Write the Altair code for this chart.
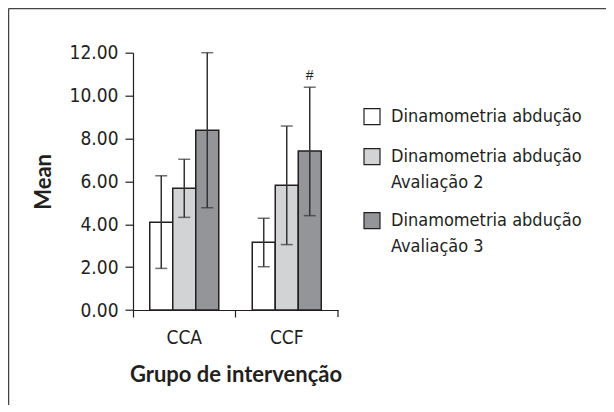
import altair as alt
import pandas as pd

groups = ["CCA", "CCF"]
series = ["Dinamometria abdução", "Dinamometria abdução Avaliação 2", "Dinamometria abdução Avaliação 3"]
colors = ["#ffffff", "#d1d3d4", "#939598"]

mean_cca = [4.09, 5.68, 8.38]
mean_ccf = [3.16, 5.82, 7.42]
upper_cca = [6.26, 7.03, 12.0]
upper_ccf = [4.28, 8.58, 10.39]
lower_cca = [1.94, 4.32, 4.77]
lower_ccf = [2.02, 3.05, 4.40]
notes_cca = ["", "", ""]
notes_ccf = ["", "", "#"]

rows = []
for g, m, u, l, n in [("CCA", mean_cca, upper_cca, lower_cca, notes_cca),
                      ("CCF", mean_ccf, upper_ccf, lower_ccf, notes_ccf)]:
    for s, mv, uv, lv, nv in zip(series, m, u, l, n):
        rows.append({"grupo": g, "serie": s, "mean": mv, "upper": uv, "lower": lv, "note": nv})
df = pd.DataFrame(rows)

W, H = 205, 257.3
PAD = {"left": 125, "top": 44.7, "right": 268, "bottom": 95}
NARROW = "'DejaVu Sans Condensed', 'Liberation Sans', sans-serif"
BOLD = "Lato"
INK = "#231f20"

x_enc = alt.X("grupo:N", sort=groups, scale=alt.Scale(paddingInner=0, paddingOuter=0),
              axis=alt.Axis(title="Grupo de intervenção", labelAngle=0, bandPosition=0,
                            labelFont=NARROW, labelFontSize=19, labelColor=INK, labelPadding=11,
                            tickSize=7, tickColor=INK, domainColor=INK, tickWidth=1.2, domainWidth=1.2,
                            titleFont=BOLD, titleFontSize=22, titleFontWeight="bold",
                            titleColor=INK, titlePadding=17))
xo_enc = alt.XOffset("serie:N", sort=series, scale=alt.Scale(paddingInner=0, paddingOuter=0.728))

base = alt.Chart(df)

bars = base.mark_bar(stroke=INK, strokeWidth=1.5).encode(
    x=x_enc,
    xOffset=xo_enc,
    y=alt.Y("mean:Q", scale=alt.Scale(domain=[0, 12], nice=False),
            axis=alt.Axis(title="Mean", values=[0, 2, 4, 6, 8, 10, 12], format=".2f", grid=False,
                          labelFont=NARROW, labelFontSize=19, labelColor=INK, labelPadding=7,
                          tickSize=8, tickColor=INK, domainColor=INK, tickWidth=1.2, domainWidth=1.2,
                          titleFont=BOLD, titleFontSize=22, titleFontWeight="bold",
                          titleColor=INK, titlePadding=14)),
    color=alt.Color("serie:N", sort=series, scale=alt.Scale(domain=series, range=colors),
                    legend=alt.Legend(title=None, orient="none", legendX=230, legendY=55,
                                      symbolType="square", symbolSize=256,
                                      symbolStrokeColor=INK, symbolStrokeWidth=1.2,
                                      labelFont=NARROW, labelFontSize=18, labelColor=INK,
                                      labelLimit=0, labelOffset=10, rowPadding=18,
                                      labelExpr="split(replace(datum.label, ' Avaliação', '|Avaliação'), '|')")),
)

err = base.mark_rule(color="#333333", strokeWidth=1.5).encode(
    x=alt.X("grupo:N", sort=groups), xOffset=xo_enc,
    y="lower:Q", y2="upper:Q")

cap_hi = base.mark_tick(color="#333333", thickness=1.5, size=12).encode(
    x=alt.X("grupo:N", sort=groups), xOffset=xo_enc, y="upper:Q")
cap_lo = base.mark_tick(color="#333333", thickness=1.5, size=12).encode(
    x=alt.X("grupo:N", sort=groups), xOffset=xo_enc, y="lower:Q")

note = base.transform_filter("datum.note != ''").mark_text(
    font="Liberation Sans", fontSize=14, color=INK, baseline="bottom", dy=-4).encode(
    x=alt.X("grupo:N", sort=groups), xOffset=xo_enc, y="upper:Q", text="note:N")

end_tick = alt.Chart(pd.DataFrame({"k": [0]})).mark_rule(color=INK, strokeWidth=1.2).encode(
    x=alt.value(W), y=alt.value(H), y2=alt.value(H + 7))

frame_top = alt.Chart(pd.DataFrame({"k": [0]})).mark_rule(color="#444444", strokeWidth=1.5).encode(
    x=alt.value(-PAD["left"] + 0.5), x2=alt.value(W + PAD["right"]), y=alt.value(-PAD["top"] + 0.5))
frame_left = alt.Chart(pd.DataFrame({"k": [0]})).mark_rule(color="#444444", strokeWidth=1.5).encode(
    x=alt.value(-PAD["left"] + 0.5), y=alt.value(-PAD["top"] + 0.5), y2=alt.value(H + PAD["bottom"]))

chart = alt.layer(bars, err, cap_hi, cap_lo, note, end_tick, frame_top, frame_left).properties(
    width=W, height=H, padding=PAD, autosize=alt.AutoSizeParams(type="none")
).configure(style={"guide-label": {"lineHeight": 26}}).configure_view(stroke=None).configure_legend(padding=0)

chart.save("out.html", embed_options={"renderer": "svg", "actions": False})
